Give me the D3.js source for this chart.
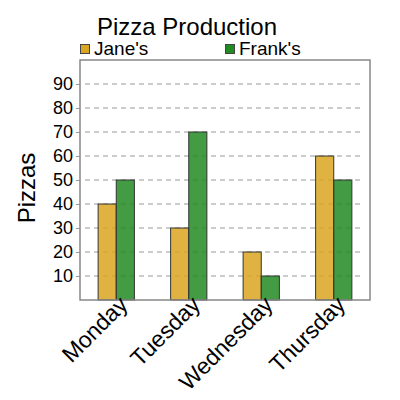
<!DOCTYPE html>
<html><head><meta charset="utf-8">
<script src="https://cdn.jsdelivr.net/npm/d3@7"></script>
<style>body{margin:0;background:#fff}svg{font-family:"Liberation Sans",Arial,sans-serif}</style>
</head><body><svg id="c" width="400" height="400"></svg>
<script>
const days = ["Monday","Tuesday","Wednesday","Thursday"];
const seriesNames = ["Jane's","Frank's"];
const jane = [40,30,20,60];
const frank = [50,70,10,50];
const yTicks = [10,20,30,40,50,60,70,80,90];
const colors = ["goldenrod","forestgreen"];

const svg = d3.select("#c");
const m = {l:80, r:30, t:60, b:100};
const W = 400, H = 400;
const x = d3.scaleBand().domain(days).range([m.l, W-m.r]).paddingInner(0.5).paddingOuter(0.25);
const xs = d3.scaleBand().domain(seriesNames).range([0, x.bandwidth()]);
const y = d3.scaleLinear().domain([0,100]).range([H-m.b, m.t]);
const color = d3.scaleOrdinal().domain(seriesNames).range(colors);

// gridlines
svg.append("g").selectAll("line").data(yTicks).join("line")
  .attr("x1", m.l+5).attr("x2", W-m.r-10)
  .attr("y1", d=>y(d)).attr("y2", d=>y(d))
  .attr("stroke","#bbb").attr("stroke-width",1.5).attr("stroke-dasharray","5,4");

// y axis
const ya = svg.append("g").attr("transform",`translate(${m.l},0)`)
  .call(d3.axisLeft(y).tickValues(yTicks).tickSize(4).tickPadding(3));
ya.select(".domain").remove();
ya.selectAll(".tick line").attr("stroke","#999");
ya.selectAll(".tick text").attr("font-size",18).attr("fill","#000").attr("font-family","Liberation Sans, Arial, sans-serif");

// bars
const data = days.map((d,i)=>({day:d, vals:[{s:seriesNames[0],v:jane[i]},{s:seriesNames[1],v:frank[i]}]}));
svg.append("g").selectAll("g").data(data).join("g")
  .attr("transform", d=>`translate(${x(d.day)},0)`)
  .selectAll("rect").data(d=>d.vals).join("rect")
  .attr("x", d=>xs(d.s)).attr("width", xs.bandwidth())
  .attr("y", d=>y(d.v)).attr("height", d=>y(0)-y(d.v))
  .attr("fill", d=>color(d.s)).attr("fill-opacity",0.85)
  .attr("stroke","#333").attr("stroke-width",1);

// frame
svg.append("rect").attr("x",m.l).attr("y",m.t).attr("width",W-m.l-m.r).attr("height",H-m.t-m.b)
  .attr("fill","none").attr("stroke","#888").attr("stroke-width",1.5);

// x labels
svg.append("g").selectAll("text").data(days).join("text")
  .attr("transform", d=>`translate(${x(d)+x.bandwidth()/2+13},306) rotate(-45)`)
  .attr("text-anchor","end").attr("font-size",23).text(d=>d);

// y title
svg.append("text").attr("transform","translate(35,188) rotate(-90)")
  .attr("text-anchor","middle").attr("font-size",24).text("Pizzas");

// title
svg.append("text").attr("x",187).attr("y",35).attr("text-anchor","middle").attr("font-size",24).text("Pizza Production");

// legend
const lg = svg.append("g").selectAll("g").data(seriesNames).join("g")
  .attr("transform",(d,i)=>`translate(${m.l + i*(W-m.l-m.r)/2},0)`);
lg.append("rect").attr("x",0.5).attr("y",44.5).attr("width",9).attr("height",9)
  .attr("fill",d=>color(d)).attr("stroke","#444").attr("stroke-width",1);
lg.append("text").attr("x",14).attr("y",55).attr("font-size",19).text(d=>d);
</script></body></html>
